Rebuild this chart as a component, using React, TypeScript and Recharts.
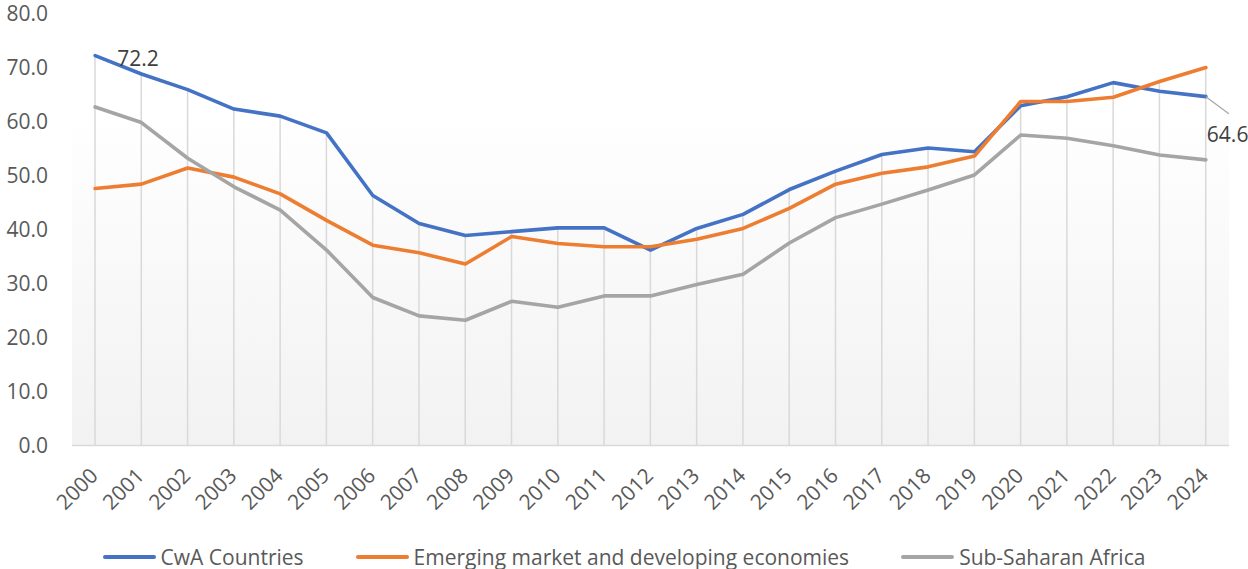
import React from 'react';
import { ComposedChart, Line, Bar, XAxis, YAxis, CartesianGrid, Legend, LabelList } from 'recharts';

const years = ['2000', '2001', '2002', '2003', '2004', '2005', '2006', '2007', '2008', '2009', '2010', '2011', '2012', '2013', '2014', '2015', '2016', '2017', '2018', '2019', '2020', '2021', '2022', '2023', '2024'];
const cwa = [72.2, 68.8, 65.9, 62.3, 61.0, 57.9, 46.3, 41.1, 38.9, 39.6, 40.3, 40.3, 36.2, 40.2, 42.8, 47.4, 50.8, 53.9, 55.1, 54.4, 62.9, 64.6, 67.2, 65.6, 64.6];
const emde = [47.6, 48.4, 51.4, 49.7, 46.6, 41.7, 37.1, 35.7, 33.6, 38.7, 37.4, 36.8, 36.8, 38.2, 40.2, 43.9, 48.4, 50.4, 51.6, 53.6, 63.7, 63.7, 64.5, 67.4, 70.0];
const ssa = [62.7, 59.8, 53.2, 47.9, 43.6, 36.2, 27.4, 24.0, 23.2, 26.7, 25.6, 27.7, 27.7, 29.8, 31.7, 37.5, 42.2, 44.7, 47.3, 50.1, 57.5, 56.9, 55.5, 53.8, 52.9];
const yTicks = [0, 10, 20, 30, 40, 50, 60, 70, 80];

const seriesNames = ['CwA Countries', 'Emerging market and developing economies', 'Sub-Saharan Africa'];
const seriesColors = ['#4472C4', '#ED7D31', '#A5A5A5'];

const data = years.map((year, i) => ({
  year,
  cwa: cwa[i],
  emde: emde[i],
  ssa: ssa[i],
  peak: Math.max(cwa[i], emde[i], ssa[i]),
}));

const FONT = '"Open Sans", sans-serif';
const TEXT = '#595959';
const FS = 21;

const XTick = (props: any) => {
  const { x, y, payload } = props;
  const ax = x + 4;
  const ay = y + 23.5;
  return (
    <text x={ax} y={ay} textAnchor="end" transform={`rotate(-45, ${ax}, ${ay})`} fill={TEXT} fontSize={FS} fontFamily={FONT}>
      {payload.value}
    </text>
  );
};

const DropLine = (props: any) => {
  const { x, y, width, height } = props;
  if (height == null || isNaN(height)) return null;
  return <rect x={x + width / 2 - 0.75} y={y} width={1.5} height={height} fill="#d9d9d9" />;
};

const CwaLabel = (props: any) => {
  const { x, y, index, value } = props;
  if (index === 0) {
    return (
      <text x={x + 22} y={y + 2} dominantBaseline="central" fill="#404040" fontSize={FS} fontFamily={FONT}>
        {Number(value).toFixed(1)}
      </text>
    );
  }
  if (index === years.length - 1) {
    return (
      <g>
        <line x1={x} y1={y} x2={x + 23} y2={y + 17} stroke="#A5A5A5" strokeWidth={1.2} />
        <text x={x + 1} y={y + 37} dominantBaseline="central" fill="#404040" fontSize={FS} fontFamily={FONT}>
          {Number(value).toFixed(1)}
        </text>
      </g>
    );
  }
  return null;
};

const LegendContent = () => (
  <div style={{ display: 'flex', justifyContent: 'center', alignItems: 'center', height: 24, gap: 52, fontFamily: FONT, fontSize: FS, color: TEXT }}>
    {seriesNames.map((n, i) => (
      <div key={n} style={{ display: 'flex', alignItems: 'center' }}>
        <div style={{ width: 53, height: 4, borderRadius: 2, background: seriesColors[i], marginRight: 5 }} />
        <span style={{ whiteSpace: 'nowrap', lineHeight: '24px' }}>{n}</span>
      </div>
    ))}
  </div>
);

export default function App() {
  return (
    <div style={{ position: 'absolute', left: 0, top: 0, width: 1248, height: 569, background: '#fff' }}>
      <svg width={0} height={0} style={{ position: 'absolute' }}>
        <defs>
          <linearGradient id="plotBg" x1="0" y1="0" x2="0" y2="1">
            <stop offset="0" stopColor="#ffffff" />
            <stop offset="0.22" stopColor="#ffffff" />
            <stop offset="1" stopColor="#f2f2f2" />
          </linearGradient>
        </defs>
      </svg>
      <ComposedChart width={1248} height={569} data={data} margin={{ top: 13.5, right: 19, left: 0, bottom: 0 }}>
        <CartesianGrid horizontal={false} vertical={false} fill="url(#plotBg)" stroke="none" />
        <XAxis
          dataKey="year"
          interval={0}
          height={99.5}
          tickLine={false}
          axisLine={{ stroke: '#d9d9d9', strokeWidth: 1.5 }}
          tick={<XTick />}
        />
        <YAxis
          domain={[0, 80]}
          ticks={yTicks}
          width={72}
          axisLine={false}
          tickLine={false}
          tickSize={0}
          tickMargin={24}
          tickFormatter={(v: number) => v.toFixed(1)}
          tick={{ fill: TEXT, fontSize: FS, fontFamily: FONT }}
          interval={0}
        />
        <Bar dataKey="peak" shape={<DropLine />} legendType="none" isAnimationActive={false} barSize={2} />
        <Line type="linear" dataKey="cwa" name={seriesNames[0]} stroke={seriesColors[0]} strokeWidth={3.6} dot={false} activeDot={false} strokeLinecap="round" strokeLinejoin="round" isAnimationActive={false}>
          <LabelList dataKey="cwa" content={<CwaLabel />} />
        </Line>
        <Line type="linear" dataKey="emde" name={seriesNames[1]} stroke={seriesColors[1]} strokeWidth={3.6} dot={false} activeDot={false} strokeLinecap="round" strokeLinejoin="round" isAnimationActive={false} />
        <Line type="linear" dataKey="ssa" name={seriesNames[2]} stroke={seriesColors[2]} strokeWidth={3.6} dot={false} activeDot={false} strokeLinecap="round" strokeLinejoin="round" isAnimationActive={false} />
        <Legend verticalAlign="bottom" height={24} content={<LegendContent />} wrapperStyle={{ left: 0, width: 1248, bottom: 0 }} />
      </ComposedChart>
    </div>
  );
}
